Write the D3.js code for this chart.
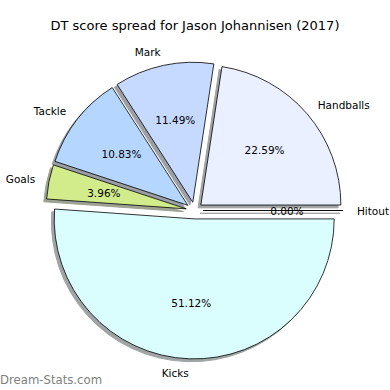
<!DOCTYPE html>
<html>
<head>
<meta charset="utf-8">
<script src="https://cdn.jsdelivr.net/npm/d3@7"></script>
<style>
    body { margin: 0; background: #fff; }
    text { font-family: "DejaVu Sans", sans-serif; }
</style>
</head>
<body>
<div id="chart"></div>
<script>
(function () {
    'use strict';

    // slice data, in matplotlib order (counter-clockwise from 3 o'clock)
    var categories = ['Handballs', 'Mark', 'Tackle', 'Goals', 'Kicks', 'Hitout'];
    var shares = [22.59, 11.49, 10.83, 3.96, 51.12, 0.00];
    var colors = ['#eaf0ff', '#c6d9ff', '#b4d6ff', '#d2ec8c', '#dafefe', '#ffffff'];

    var width = 390,
        height = 390,
        center = { x: 194.5, y: 210.5 },
        radius = 140,
        explode = 0.06;

    var svg = d3.select('#chart')
        .append('svg')
        .attr('width', width)
        .attr('height', height);

    svg.append('text')
        .attr('x', 195)
        .attr('y', 25)
        .attr('text-anchor', 'middle')
        .attr('dominant-baseline', 'central')
        .style('font-size', '13px')
        .text('DT score spread for Jason Johannisen (2017)');

    var pie = d3.pie()
        .sort(null)
        .value(function (d) { return d; })
        .startAngle(Math.PI / 2)
        .endAngle(Math.PI / 2 - 2 * Math.PI);

    var arcs = pie(shares);
    var arc = d3.arc().innerRadius(0).outerRadius(radius);

    function mid(d) { return (d.startAngle + d.endAngle) / 2; }
    function offset(d, dist) {
        var m = mid(d);
        return [Math.sin(m) * dist, -Math.cos(m) * dist];
    }

    var g = svg.append('g')
        .attr('transform', 'translate(' + center.x + ',' + center.y + ')');

    // shadows first, all below the wedges
    g.append('g').selectAll('path')
        .data(arcs)
        .enter().append('path')
        .attr('d', arc)
        .attr('transform', function (d) {
            var o = offset(d, explode * radius);
            return 'translate(' + (o[0] - 2.8) + ',' + (o[1] + 2.8) + ')';
        })
        .attr('fill', function (d, i) {
            var c = d3.rgb(colors[i]);
            return d3.rgb(c.r * 0.3, c.g * 0.3, c.b * 0.3);
        })
        .attr('stroke', function (d, i) {
            var c = d3.rgb(colors[i]);
            return d3.rgb(c.r * 0.3, c.g * 0.3, c.b * 0.3);
        })
        .attr('opacity', 0.5);

    g.append('g').selectAll('path')
        .data(arcs)
        .enter().append('path')
        .attr('d', arc)
        .attr('transform', function (d) {
            var o = offset(d, explode * radius);
            return 'translate(' + o[0] + ',' + o[1] + ')';
        })
        .attr('fill', function (d, i) { return colors[i]; })
        .attr('stroke', '#000')
        .attr('stroke-width', 0.8)
        .attr('stroke-linejoin', 'round');

    // category labels
    g.append('g').selectAll('text')
        .data(arcs)
        .enter().append('text')
        .attr('x', function (d) {
            return offset(d, explode * radius)[0] + offset(d, 1.1 * radius)[0];
        })
        .attr('y', function (d) {
            return offset(d, explode * radius)[1] + offset(d, 1.1 * radius)[1];
        })
        .attr('text-anchor', function (d) {
            return Math.sin(mid(d)) > 0 ? 'start' : 'end';
        })
        .attr('dominant-baseline', 'central')
        .style('font-size', '10.5px')
        .text(function (d, i) { return categories[i]; });

    // percentage labels
    g.append('g').selectAll('text')
        .data(arcs)
        .enter().append('text')
        .attr('x', function (d) {
            return offset(d, explode * radius)[0] + offset(d, 0.6 * radius)[0];
        })
        .attr('y', function (d) {
            return offset(d, explode * radius)[1] + offset(d, 0.6 * radius)[1];
        })
        .attr('text-anchor', 'middle')
        .attr('dominant-baseline', 'central')
        .style('font-size', '10.5px')
        .text(function (d) { return d.data.toFixed(2) + '%'; });

    svg.append('text')
        .attr('x', 0)
        .attr('y', 380)
        .attr('dominant-baseline', 'central')
        .style('font-size', '11.7px')
        .attr('fill', '#808080')
        .text('Dream-Stats.com');
})();
</script>
</body>
</html>
